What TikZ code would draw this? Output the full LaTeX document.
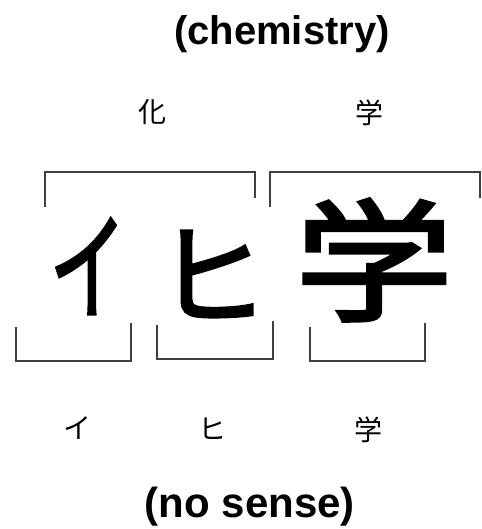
\documentclass[tikz,border=0pt]{standalone}
\usepackage{fontspec}
\setmainfont{Liberation Sans}
\newfontfamily\cjk{Noto Sans CJK JP}
\newfontfamily\cjkbig[FakeBold=2.5]{Noto Sans CJK JP}
\begin{document}
\begin{tikzpicture}[x=1pt,y=-1pt,
  bracket/.style={draw=black!75,line width=2pt},
  bigchar/.style={font=\cjkbig\fontsize{#1}{#1}\selectfont,inner sep=0pt},
  smallchar/.style={font=\cjk\fontsize{28}{28}\selectfont,inner sep=0pt},
  title/.style={font=\bfseries\fontsize{#1}{#1}\selectfont,inner sep=0pt}]
\useasboundingbox (0,0) rectangle (481,529);
% titles
\node[title=40] (chem) at (282,34) {(chemistry)};
\node[title=42] (nosense) at (250,507) {(no sense)};
% small top
\node[smallchar] (ka) at (152,112) {化};
\node[smallchar] (gakuT) at (369,113) {学};
% brackets top
\draw[bracket] (45,207) -- (45,172) -- (255,172) -- (255,198);
\draw[bracket] (270,207) -- (270,172) -- (480,172) -- (480,198);
% big characters
\node[bigchar=118,xscale=0.65] (i) at (88,266) {イ};
\node[bigchar=112] (hi) at (212,274) {ヒ};
\node[bigchar=132,xscale=1.2] (gaku) at (374,260) {学};
% brackets bottom
\draw[bracket] (16,327) -- (16,361) -- (131,361) -- (131,323);
\draw[bracket] (157,325) -- (157,359) -- (273,359) -- (273,321);
\draw[bracket] (310,327) -- (310,361) -- (425,361) -- (425,323);
% small bottom
\node[smallchar] (iB) at (77,428) {イ};
\node[smallchar] (hiB) at (212,429) {ヒ};
\node[smallchar] (gakuB) at (368,430) {学};
\end{tikzpicture}
\end{document}
